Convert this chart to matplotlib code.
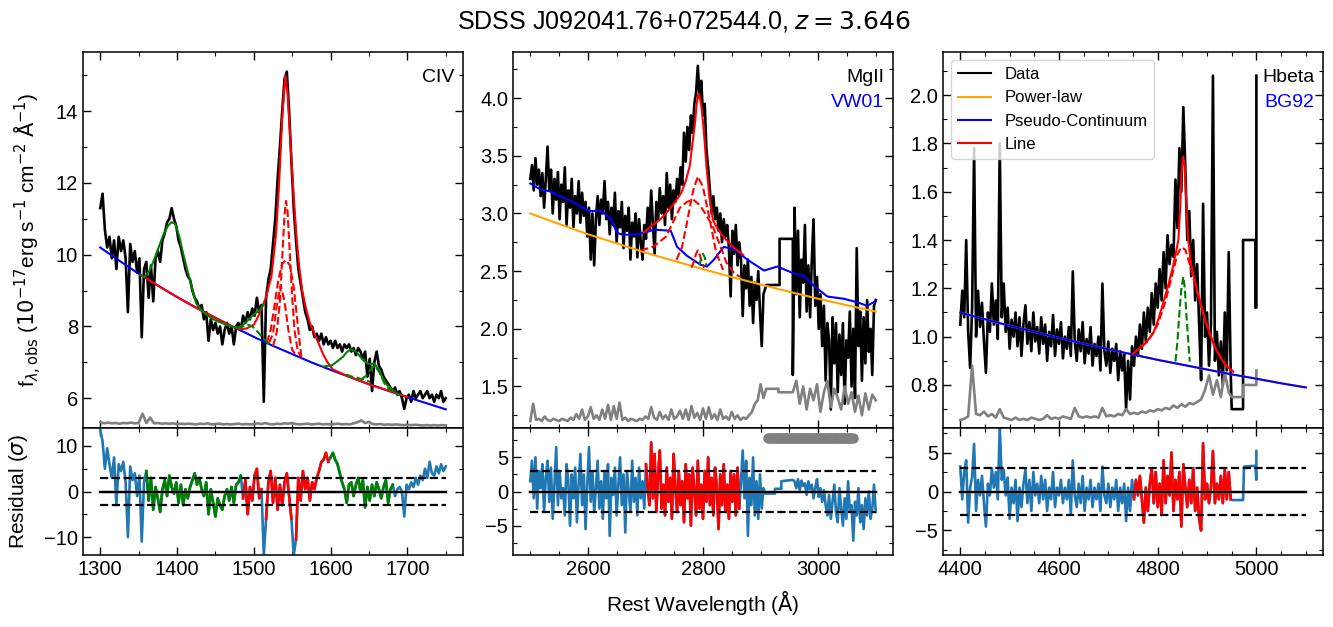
import numpy as np
import matplotlib
matplotlib.use("Agg")
import matplotlib.pyplot as plt
from matplotlib.ticker import AutoMinorLocator, MultipleLocator

plt.rcParams['font.family'] = ['Liberation Sans', 'DejaVu Sans']
plt.rcParams['mathtext.fontset'] = 'dejavusans'

# ---------------- CIV window ----------------
civ_lo, civ_hi = 1300, 1750
civ_flux = [11.3, 11.7, 10.7, 10.2, 10.5, 9.9, 10.4, 9.6, 10.5, 10.1,
            10.4, 9.9, 8.4, 10.3, 9.8, 10.1, 9.5, 9.9, 7.7, 9.6,
            9.8, 8.8, 9.7, 8.7, 9.9, 10.1, 9.8, 10.4, 10.6, 10.9,
            11.0, 11.3, 11.0, 10.8, 10.4, 10.2, 9.9, 9.6, 9.4, 9.3,
            9.0, 8.8, 8.7, 8.5, 8.6, 8.2, 8.4, 7.6, 8.2, 7.9,
            8.1, 7.8, 8.0, 7.5, 7.9, 8.1, 7.8, 8.0, 7.5, 8.0,
            8.1, 7.9, 8.3, 8.1, 8.4, 8.2, 8.5, 8.3, 8.8, 8.4,
            8.6, 5.9, 8.8, 9.3, 9.6, 10.3, 11.0, 12.1, 13.0, 14.0,
            14.9, 15.1, 14.0, 12.6, 11.3, 10.4, 9.6, 9.2, 8.8, 8.4,
            8.2, 7.9, 8.0, 7.7, 7.8, 7.6, 7.8, 7.5, 7.7, 7.5,
            7.6, 7.4, 7.6, 7.4, 7.5, 7.3, 7.5, 7.4, 7.5, 7.3,
            7.4, 7.2, 7.4, 7.3, 7.1, 7.3, 6.6, 7.1, 6.2, 7.0,
            7.3, 6.9, 6.8, 6.6, 6.5, 6.4, 6.3, 6.2, 6.3, 6.1,
            6.2, 6.0, 5.7, 6.0, 6.1, 5.9, 6.2, 6.0, 6.1, 6.2,
            6.0, 6.1, 6.2, 6.0, 6.1, 5.9, 6.1, 6.0, 6.2, 5.9,
            6.0]
civ_err = [5.33, 5.30, 5.32, 5.30, 5.31, 5.29, 5.31, 5.30, 5.32, 5.30,
           5.31, 5.57, 5.31, 5.46, 5.30, 5.31, 5.29, 5.30, 5.29, 5.30,
           5.28, 5.29, 5.28, 5.29, 5.28, 5.27, 5.29, 5.28, 5.30, 5.27,
           5.28, 5.29, 5.27, 5.28, 5.27, 5.28, 5.29, 5.27, 5.28, 5.27,
           5.28, 5.30, 5.28, 5.31, 5.28, 5.27, 5.29, 5.28, 5.30, 5.29,
           5.31, 5.28, 5.27, 5.28, 5.29, 5.27, 5.28, 5.29, 5.27, 5.28,
           5.27, 5.28, 5.29, 5.27, 5.28, 5.27, 5.30, 5.33, 5.38, 5.31,
           5.34, 5.28, 5.27, 5.28, 5.26, 5.27, 5.26, 5.27, 5.26, 5.25,
           5.26, 5.25, 5.26, 5.25, 5.24, 5.25, 5.24, 5.25, 5.24, 5.25,
           5.24]
civ_resid = [13.5, 11.0, 5.0, 9.5, 6.0, 3.0, 7.5, -3.0, 6.0, 4.5,
             6.5, 2.0, -10.0, 5.5, 2.5, 4.0, -1.0, 3.5, -11.0, 2.0,
             4.5, -2.0, 3.0, -4.0, 1.0, -1.5, -4.5, 0.5, 2.5, -1.0,
             3.5, 1.0, -0.5, 2.0, -2.5, 1.5, -3.0, 0.5, -1.5, 1.0,
             2.5, 4.0, 1.5, 3.0, 0.5, -1.0, 2.0, -5.0, 0.5, -2.5,
             -5.5, -1.5, -3.0, -4.0, -1.0, 0.5, -2.0, 1.0, -2.5, 1.5,
             2.0, 3.5, -1.5, 2.5, -5.0, 1.0, -2.0, 3.5, 5.0, -1.5,
             0.5, -14.0, -6.0, 2.0, 4.5, -2.5, 3.0, -4.0, 1.5, -3.0,
             2.0, 4.0, -1.0, -6.0, -14.0, -10.5, 3.0, -2.0, 4.5, 0.5,
             3.0, -2.0, 2.0, 0.5, 3.0, 4.5, 6.5, 7.0, 8.5, 6.5,
             7.5, 8.5, 7.0, 6.0, 4.0, 2.0, 0.5, -2.5, 1.5, 2.0,
             -1.0, 1.5, 3.0, 0.0, 2.5, -3.5, 1.0, -2.0, 1.5, -1.0,
             2.0, 0.5, -1.5, 1.0, 2.5, -2.5, 0.5, 1.5, -1.0, 0.5,
             1.0, 0.0, -5.5, 1.5, 0.5, 2.0, 1.0, 3.0, 1.5, 3.5,
             2.5, 5.0, 3.0, 6.5, 4.0, 3.5, 5.5, 4.0, 6.0, 4.5,
             5.5]
civ_conti_wave = [1300, 1325, 1350, 1375, 1400, 1425, 1450, 1475, 1500, 1525,
                  1550, 1575, 1600, 1625, 1650, 1675, 1700, 1725, 1750]
civ_conti = [10.20, 9.83, 9.47, 9.14, 8.82, 8.52, 8.24, 7.97, 7.71, 7.46,
             7.23, 7.00, 6.79, 6.59, 6.39, 6.21, 6.03, 5.86, 5.69]
civ_line_wave = [1352, 1375, 1400, 1425, 1450, 1470, 1480, 1490, 1500, 1505,
                 1510, 1516, 1523, 1529, 1533, 1537, 1541, 1544, 1547, 1550,
                 1553, 1556, 1559, 1563, 1568, 1573, 1579, 1585, 1590, 1596,
                 1603, 1625, 1650, 1675, 1700]
civ_line = [9.45, 9.14, 8.82, 8.52, 8.24, 8.02, 7.93, 7.94, 8.05, 8.25,
            8.50, 8.82, 9.40, 10.6, 12.0, 13.8, 15.0, 14.5, 13.4, 12.3,
            11.3, 10.4, 9.7, 9.0, 8.5, 8.1, 7.8, 7.5, 7.24, 7.0,
            6.80, 6.59, 6.39, 6.21, 6.03]
civ_green1_wave = [1352, 1358, 1364, 1370, 1376, 1382, 1388, 1393, 1398, 1403,
                   1408, 1413, 1417, 1421, 1425, 1430, 1436, 1443, 1450, 1458,
                   1466, 1474, 1482, 1490, 1497, 1503, 1509, 1513]
civ_green1 = [9.43, 9.38, 9.55, 9.85, 10.2, 10.55, 10.8, 10.91, 10.85, 10.5,
              10.03, 9.6, 9.29, 8.95, 8.64, 8.50, 8.36, 8.26, 8.17, 8.10,
              8.03, 7.98, 7.98, 8.12, 8.28, 8.38, 8.48, 8.62]
civ_green2_wave = [1590, 1602, 1610, 1616, 1621, 1626, 1632, 1637, 1643, 1648,
                   1652, 1657, 1663, 1668, 1672, 1678, 1685, 1690]
civ_green2 = [6.88, 6.92, 7.05, 7.15, 7.28, 7.36, 7.32, 7.2, 7.05, 6.97,
              6.95, 6.97, 6.78, 6.55, 6.41, 6.28, 6.15, 6.10]
civ_red_comps = [
    ([1520, 1525, 1530, 1535, 1540, 1545, 1550, 1555],
     [7.55, 7.80, 8.60, 9.15, 8.70, 7.90, 7.35, 7.20]),
    ([1525, 1530, 1534, 1537, 1540, 1542, 1544, 1547, 1550, 1553, 1557, 1561],
     [7.45, 7.85, 8.70, 9.90, 11.1, 11.5, 11.2, 10.0, 8.80, 7.90, 7.35, 7.15]),
    ([1517, 1522, 1527, 1532, 1537, 1542, 1547, 1552, 1556, 1559, 1562],
     [7.55, 7.90, 8.60, 9.30, 9.75, 9.85, 9.70, 9.10, 8.30, 7.70, 7.15]),
]
civ_green_comps = [
    ([1478, 1485, 1492, 1498, 1505, 1512, 1518, 1524],
     [7.95, 8.00, 8.05, 8.00, 7.85, 7.68, 7.55, 7.45]),
    ([1620, 1628, 1636, 1644, 1652],
     [6.66, 6.60, 6.56, 6.52, 6.45]),
    ([1640, 1646, 1652, 1657, 1663, 1670, 1678],
     [6.52, 6.62, 6.80, 6.90, 6.75, 6.42, 6.20]),
]
civ_green_win = [(1360, 1485), (1600, 1682)]
civ_red_win = [(1485, 1600)]
civ_reject = 12   # outliers left out of the fitted windows

# ---------------- MgII window ----------------
mg_flux_a = [3.30, 3.42, 3.20, 3.48, 3.25, 3.38, 3.15, 3.35, 3.05, 3.30,
             3.58, 3.20, 3.38, 3.00, 3.30, 3.12, 3.36, 2.95, 3.25, 3.10,
             3.40, 2.90, 3.20, 3.05, 3.30, 2.88, 3.15, 3.00, 3.28, 2.92,
             3.18, 2.98, 3.10, 2.80, 3.05, 2.60, 3.00, 2.55, 2.95, 3.15,
             2.90, 3.12, 3.00, 3.28, 2.95, 3.10, 2.82, 3.05, 2.90, 3.18,
             2.75, 3.02, 2.88, 3.10, 2.70, 2.98, 2.85, 3.05, 2.60, 2.92,
             2.80, 3.00, 2.62, 2.95, 2.75, 2.60, 2.90, 2.78, 3.05, 2.85,
             3.20, 2.90, 2.65, 3.10, 2.95, 3.22, 3.00, 3.15, 2.90, 3.35,
             3.05, 3.25, 2.95, 3.20, 3.10, 3.30, 3.15, 3.40, 3.25, 3.70,
             3.45, 3.75, 3.55, 3.85, 3.70, 3.95, 4.05, 4.28, 4.00, 4.15,
             3.85, 3.95, 3.55, 3.40, 3.20, 3.00, 3.15, 2.95, 3.05, 2.85,
             3.00, 2.75, 2.95, 2.80, 2.90, 2.70, 2.28, 2.85, 2.65, 2.90,
             2.55, 2.75, 2.60, 2.11, 2.55, 2.35, 2.60, 2.20, 2.45, 2.05,
             2.40, 2.25, 2.50, 2.15, 1.85, 2.30]
mg_a_lo, mg_a_hi = 2500, 2905
mg_step_wave = [2910, 2933, 2933, 2956]
mg_step_flux = [2.38, 2.38, 2.78, 2.78]
mg_flux_b = [1.60, 3.05, 2.30, 2.85, 2.10, 2.60, 2.40, 2.90, 2.15, 2.55,
             2.10, 2.60, 2.95, 2.20, 2.45, 2.00, 2.30, 1.85, 2.20, 1.55,
             2.05, 1.90, 1.30, 2.10, 1.70, 2.05, 1.45, 1.95, 1.60, 2.05,
             1.35, 1.90, 1.75, 2.15, 1.50, 2.00, 1.40, 2.70, 1.85, 2.15,
             1.55, 2.10, 1.70, 2.25, 1.80, 2.00, 1.60, 2.20, 2.25]
mg_b_lo, mg_b_hi = 2956, 3100
mg_err_a = [1.20, 1.35, 1.21, 1.22, 1.20, 1.24, 1.21, 1.20, 1.22, 1.21,
            1.20, 1.22, 1.21, 1.20, 1.23, 1.21, 1.26, 1.22, 1.30, 1.21,
            1.24, 1.32, 1.22, 1.25, 1.21, 1.30, 1.22, 1.34, 1.21, 1.33,
            1.22, 1.36, 1.21, 1.23, 1.20, 1.22, 1.21, 1.20, 1.22, 1.21,
            1.24, 1.22, 1.32, 1.23, 1.21, 1.28, 1.22, 1.25, 1.21, 1.30,
            1.22, 1.24, 1.29, 1.22, 1.30, 1.21, 1.33, 1.23, 1.27, 1.21,
            1.31, 1.22, 1.32, 1.22, 1.26, 1.21, 1.30, 1.22, 1.24, 1.21,
            1.28, 1.22, 1.25, 1.21, 1.23, 1.22, 1.25, 1.28, 1.35, 1.38,
            1.52, 1.40]
mg_err_step_wave = [2910, 2931, 2931, 2956]
mg_err_step = [1.48, 1.48, 1.45, 1.45]
mg_err_b = [1.45, 1.55, 1.35, 1.50, 1.30, 1.48, 1.38, 1.52, 1.28, 1.45,
            1.55, 1.32, 1.48, 1.40, 1.30, 1.50, 1.35, 1.45, 1.28, 1.42,
            1.25, 1.44, 1.30, 1.43, 1.38]
mg_resid_a = [1.5, 4.5, -1.0, 5.0, -2.5, 3.0, 0.5, 4.0, -3.0, 2.0,
              4.5, -1.5, 3.5, -4.0, 1.0, 6.5, -2.0, 3.0, -1.0, 0.5,
              -3.5, 4.0, 1.5, -5.0, 2.5, -1.0, 3.5, -4.5, 1.0, 5.5,
              -2.0, 2.5, -5.5, 1.0, 6.5, -1.5, 3.0, -3.0, 0.5, 4.5,
              -2.5, 1.5, -4.0, 3.0, -1.0, 4.0, -6.5, 2.0, -0.5, 3.5,
              -3.5, 1.0, 5.0, -2.0, 2.5, -6.0, 3.0, 0.0, -3.0, 4.5,
              -1.5, 2.0, -3.5, 3.5, -1.0, 1.5, -2.5, 4.0, 0.5, -2.0,
              7.2, -1.0, 5.5, -3.0, 2.5, 6.0, -2.5, 1.0, -3.5, 3.5,
              -1.5, 2.0, -4.0, 5.5, 0.5, -3.0, 3.0, -2.0, 1.5, -4.5,
              4.0, -1.0, 2.5, -5.0, 3.5, 0.0, -3.5, 4.5, -2.5, 1.0,
              -4.0, 3.0, -1.5, 5.0, -2.0, 2.0, -3.5, 3.5, 0.5, -5.5,
              2.5, -2.0, 4.0, -3.0, 1.0, -4.0, 3.0, -1.5, 2.5, -3.5,
              3.5, -2.5, 1.5, 6.0, -1.0, 4.5, -6.5, 2.0, -2.0, 5.0,
              -3.5, 1.5, -4.0, 2.5, -2.5, 0.5]
mg_resid_step_wave = [2908, 2925, 2925, 2936, 2936, 2956]
mg_resid_step = [-0.3, -0.3, 0.4, 0.4, 1.5, 1.7]
mg_resid_b = [1.7, 1.5, 0.5, 1.8, 0.2, 1.6, 0.8, 1.2, -0.5, 1.5,
              0.3, 1.0, -1.0, 0.5, 1.8, -0.8, 0.5, -1.5, 0.2, -2.0,
              -3.5, -0.5, -4.0, -1.5, 1.0, -3.0, -4.5, 0.5, -2.5, -5.0,
              -1.0, -4.0, 1.5, -3.0, -2.0, -7.2, -1.5, -3.5, 0.5, -4.5,
              -2.0, -5.5, -1.0, -3.5, 0.0, -4.0, -2.5, 1.0, -3.0]
mg_pl_wave = [2500, 2550, 2600, 2650, 2700, 2750, 2800, 2850, 2900, 2950,
              3000, 3050, 3100]
mg_pl = [3.00, 2.909, 2.82, 2.741, 2.66, 2.588, 2.517, 2.449, 2.384, 2.321,
         2.261, 2.204, 2.15]
mg_feii_wave = [2500, 2517, 2535, 2552, 2570, 2587, 2604, 2622, 2639, 2651,
                2662, 2686, 2703, 2715, 2744, 2755, 2773, 2796, 2807, 2819,
                2836, 2854, 2877, 2906, 2929, 2958, 2975, 2993, 3016, 3045,
                3068, 3085, 3100]
mg_feii = [3.26, 3.21, 3.19, 3.15, 3.11, 3.06, 3.02, 3.025, 2.96, 2.83,
           2.815, 2.82, 2.84, 2.86, 2.85, 2.71, 2.63, 2.555, 2.54, 2.60,
           2.71, 2.69, 2.60, 2.505, 2.54, 2.48, 2.46, 2.37, 2.28, 2.26,
           2.23, 2.20, 2.24]
mg_line_wave = [2697, 2710, 2725, 2737, 2748, 2762, 2770, 2777, 2782, 2786,
                2789, 2792, 2795, 2798, 2802, 2806, 2811, 2817, 2825, 2835,
                2852, 2870]
mg_line = [2.835, 2.89, 2.945, 3.01, 3.075, 3.176, 3.28, 3.41, 3.62, 3.78,
           3.95, 4.04, 4.00, 3.90, 3.68, 3.41, 3.15, 2.945, 2.87, 2.80,
           2.71, 2.64]
mg_red_comps = [
    ([2692, 2713, 2736, 2760, 2772, 2783, 2795, 2805, 2817, 2829, 2841, 2853, 2864],
     [2.68, 2.71, 2.80, 3.05, 3.10, 3.12, 3.07, 2.99, 2.89, 2.73, 2.57, 2.49, 2.45]),
    ([2754, 2763, 2771, 2777, 2783, 2791, 2800, 2806, 2812, 2823, 2835],
     [2.60, 2.70, 2.89, 3.05, 3.20, 3.32, 3.23, 3.08, 2.94, 2.66, 2.51]),
    ([2780, 2784, 2788, 2791, 2794, 2798, 2802],
     [2.53, 2.58, 2.65, 2.68, 2.65, 2.58, 2.53]),
]
mg_green_comps = [
    ([2794, 2797, 2800, 2803, 2806], [2.55, 2.62, 2.65, 2.62, 2.55]),
]
mg_red_win = [(2700, 2866)]
mg_mask_lo, mg_mask_hi = 2913, 3061   # masked pixels shown as grey dots
mg_mask_step = 3
mg_mask_level = 7.8

# ---------------- Hbeta window ----------------
hb_lo, hb_hi = 4400, 4948
hb_flux = [1.05, 1.19, 1.08, 1.40, 1.02, 0.87, 1.12, 1.78, 1.00, 1.19,
           1.04, 1.14, 0.98, 0.85, 1.10, 1.02, 1.22, 1.05, 1.15, 0.99,
           1.80, 1.08, 1.22, 1.02, 1.12, 0.95, 1.07, 1.00, 1.10, 0.96,
           1.08, 0.92, 1.05, 1.13, 0.97, 1.06, 0.94, 1.10, 0.98, 1.04,
           0.93, 1.08, 0.97, 1.05, 0.90, 1.02, 0.96, 1.09, 0.92, 1.03,
           0.97, 1.06, 0.91, 1.00, 0.95, 1.04, 0.92, 1.27, 0.98, 0.90,
           1.03, 0.94, 1.06, 0.89, 0.99, 0.93, 1.04, 0.88, 0.97, 0.92,
           1.00, 0.86, 1.22, 0.94, 0.88, 0.98, 0.85, 0.95, 0.90, 0.97,
           0.82, 0.94, 0.86, 0.93, 0.70, 0.90, 0.74, 0.96, 0.88, 1.00,
           0.92, 1.05, 0.95, 1.10, 0.98, 1.12, 1.02, 1.18, 1.05, 1.22,
           1.12, 1.28, 1.15, 1.35, 1.20, 1.42, 1.30, 1.38, 1.33, 1.65,
           1.45, 1.78, 1.60, 1.95, 1.70, 1.40, 1.52, 1.25, 1.40, 1.15,
           1.30, 1.05, 0.82, 1.55, 1.00, 1.10, 0.88, 1.05, 2.08, 0.90,
           1.02, 0.84, 0.98, 0.80, 1.10, 0.86, 1.35, 0.85]
hb_step_wave = [4950, 4973, 4973, 4998, 4998, 5000, 5000]
hb_step_flux = [0.70, 0.70, 1.40, 1.40, 1.12, 1.12, 2.08]
hb_err_lo, hb_err_hi = 4400, 4944
hb_err = [0.655, 0.66, 0.67, 0.88, 0.68, 0.675, 0.69, 0.67, 0.68, 0.665,
          0.70, 0.665, 0.66, 0.655, 0.665, 0.655, 0.66, 0.655, 0.665, 0.66,
          0.655, 0.66, 0.675, 0.66, 0.665, 0.66, 0.67, 0.665, 0.66, 0.705,
          0.67, 0.665, 0.67, 0.665, 0.67, 0.665, 0.705, 0.67, 0.675, 0.67,
          0.68, 0.675, 0.70, 0.68, 0.685, 0.68, 0.69, 0.685, 0.695, 0.69,
          0.70, 0.695, 0.705, 0.70, 0.715, 0.705, 0.72, 0.71, 0.725, 0.72,
          0.73, 0.74, 0.78, 0.84, 0.76, 0.82, 0.75, 0.85, 0.77]
hb_err_step_wave = [4950, 4973, 4973, 5000, 5000]
hb_err_step = [0.75, 0.75, 0.80, 0.80, 0.86]
hb_resid = [3.2, -1.0, 2.5, 4.0, -4.0, 0.5, 1.8, 6.1, -2.5, 1.5,
            -0.5, 2.0, -1.5, -4.5, 1.0, -0.5, 3.0, 0.5, 2.5, -1.0,
            8.5, 1.5, 2.8, -0.5, 1.8, -3.5, 0.5, -1.5, 1.5, -3.8,
            0.5, -2.0, 1.0, 2.8, -1.5, 1.5, -2.5, 2.5, -0.5, 1.0,
            -1.5, 2.0, -1.0, 1.5, -2.5, 0.5, -1.0, 2.5, -2.0, 0.5,
            -0.5, 1.5, -1.5, 0.5, -1.0, 1.5, -3.0, 4.0, -0.5, -2.0,
            1.0, -1.5, 2.0, -2.5, 0.5, -1.0, 1.5, -2.0, 0.5, -1.0,
            1.0, -2.5, 3.2, -0.5, -1.5, 1.0, -2.0, 0.5, -1.0, 1.5,
            -2.5, 0.5, -1.5, 1.0, -3.8, 0.5, -2.5, 1.5, -1.0, 1.5,
            -0.5, 2.0, -1.0, -4.0, 0.5, -2.5, 1.0, 3.0, -1.5, 2.5,
            -2.0, 1.0, -3.0, 4.0, -1.5, 2.0, -0.5, 5.0, -2.5, 1.5,
            -1.0, 2.5, -4.5, 3.5, 0.5, -2.0, 1.5, -1.5, 3.0, -2.5,
            0.5, -3.5, -5.0, 6.2, -1.0, 1.0, -1.5, 0.5, 5.2, -1.5,
            1.0, -1.0, 2.0, -1.5, 2.8, -1.0, 2.5, -1.0]
hb_resid_step_wave = [4952, 4973, 4975, 4998, 5000, 5000]
hb_resid_step = [-1.1, -1.1, 3.2, 3.3, 1.5, 5.2]
hb_conti_wave = [4400, 4450, 4500, 4550, 4600, 4650, 4700, 4750, 4800, 4850,
                 4900, 4950, 5000, 5050, 5100]
hb_conti = [1.099, 1.072, 1.045, 1.020, 0.995, 0.971, 0.948, 0.926, 0.904, 0.884,
            0.864, 0.844, 0.826, 0.807, 0.790]
hb_line_wave = [4750, 4764, 4778, 4791, 4801, 4811, 4821, 4831, 4838, 4842,
                4846, 4849, 4852, 4855, 4858, 4862, 4867, 4872, 4880, 4889,
                4897, 4906, 4915, 4926, 4938, 4953]
hb_line = [0.93, 0.952, 0.98, 1.014, 1.07, 1.138, 1.21, 1.29, 1.36, 1.40,
           1.55, 1.70, 1.745, 1.70, 1.55, 1.40, 1.31, 1.262, 1.19, 1.124,
           1.065, 1.014, 0.96, 0.917, 0.88, 0.855]
hb_red_comps = [
    ([4750, 4780, 4800, 4815, 4830, 4840, 4848, 4856, 4865, 4875, 4890, 4905,
      4920, 4935, 4953],
     [0.93, 0.98, 1.05, 1.14, 1.26, 1.34, 1.37, 1.36, 1.30, 1.22, 1.11, 1.01,
      0.94, 0.89, 0.855]),
]
hb_green_comps = [
    ([4836, 4840, 4844, 4848, 4852, 4855, 4858, 4862, 4865],
     [0.897, 0.98, 1.097, 1.20, 1.248, 1.20, 1.097, 0.98, 0.897]),
]
hb_red_win = [(4750, 4950)]


def grid(lo, hi, vals):
    return np.linspace(lo, hi, len(vals))


def window_part(wave, vals, wins, reject=None):
    wave = np.asarray(wave)
    vals = np.asarray(vals, dtype=float)
    keep = np.zeros(len(wave), dtype=bool)
    for a, b in wins:
        keep |= (wave >= a) & (wave < b)
    if reject is not None:
        keep &= np.abs(vals) < reject
    return np.where(keep, vals, np.nan)


def style(ax, xminor, yminor):
    ax.tick_params(which='both', direction='in', top=True, right=True,
                   labelsize=14.5)
    ax.tick_params(which='major', length=6, width=1)
    ax.tick_params(which='minor', length=3, width=0.8)
    ax.xaxis.set_minor_locator(AutoMinorLocator(xminor))
    ax.yaxis.set_minor_locator(AutoMinorLocator(yminor))
    for s in ax.spines.values():
        s.set_linewidth(1.1)


def resid_lines(ax, lo, hi):
    ax.plot([lo, hi], [0, 0], color='gray', lw=3, alpha=0.25, zorder=3)
    ax.plot([lo, hi], [0, 0], color='k', lw=1.6, zorder=4)
    ax.plot([lo, hi], [3, 3], color='k', lw=1.6, ls='--', zorder=4)
    ax.plot([lo, hi], [-3, -3], color='k', lw=1.6, ls='--', zorder=4)


def labels(ax, top, bottom=None):
    ax.text(0.977, 0.955, top, transform=ax.transAxes, ha='right', va='top',
            fontsize=14, color='k')
    if bottom:
        ax.text(0.977, 0.888, bottom, transform=ax.transAxes, ha='right',
                va='top', fontsize=14, color='blue')


W, H = 1333, 627
fig = plt.figure(figsize=(W / 100, H / 100), dpi=100)
lefts = [83, 513, 943]
axw = 380 / W
top_b, top_h = (H - 428) / H, 376 / H
res_b, res_h = (H - 555) / H, 127 / H
ax_t = [fig.add_axes([l / W, top_b, axw, top_h]) for l in lefts]
ax_r = [fig.add_axes([l / W, res_b, axw, res_h]) for l in lefts]

lw_d = 1.9
lw_m = 1.5

# ---- CIV panels ----
ax = ax_t[0]
cw = grid(civ_lo, civ_hi, civ_flux)
ax.plot(cw, civ_flux, color='k', lw=lw_d)
ax.plot(grid(civ_lo, civ_hi, civ_err), civ_err, color='gray', lw=lw_d)
ax.plot(civ_conti_wave, civ_conti, color='blue', lw=lw_m)
ax.plot(civ_line_wave, civ_line, color='red', lw=lw_m)
for w, f in civ_red_comps:
    ax.plot(w, f, color='red', lw=lw_m, ls='--')
for w, f in civ_green_comps:
    ax.plot(w, f, color='green', lw=lw_m, ls='--')
ax.plot(civ_green1_wave, civ_green1, color='green', lw=lw_m)
ax.plot(civ_green2_wave, civ_green2, color='green', lw=lw_m)
ax.set_xlim(1277.5, 1772.5)
ax.set_ylim(5.17, 15.65)
ax.yaxis.set_major_locator(MultipleLocator(2))
labels(ax, 'CIV')
ax.set_ylabel(r'f$_{\lambda,\rm obs}$ ($10^{-17}$erg s$^{-1}$ cm$^{-2}$ $\rm\AA^{-1}$)',
              fontsize=15)
ax.yaxis.set_label_coords(-0.105, 0.5)

ax = ax_r[0]
rw = grid(civ_lo, civ_hi, civ_resid)
ax.plot(rw, civ_resid, color='tab:blue', lw=lw_d)
ax.plot(rw, window_part(rw, civ_resid, civ_green_win, civ_reject),
        color='green', lw=lw_d)
ax.plot(rw, window_part(rw, civ_resid, civ_red_win, civ_reject),
        color='red', lw=lw_d)
resid_lines(ax, civ_lo, civ_hi)
ax.set_xlim(1277.5, 1772.5)
ax.set_ylim(-13.95, 13.95)
ax.yaxis.set_major_locator(MultipleLocator(10))
ax.set_ylabel(r'Residual ($\sigma$)', fontsize=15)
ax.yaxis.set_label_coords(-0.139, 0.5)

# ---- MgII panels ----
ax = ax_t[1]
mw = np.concatenate([grid(mg_a_lo, mg_a_hi, mg_flux_a), mg_step_wave,
                     grid(mg_b_lo, mg_b_hi, mg_flux_b)])
mf = np.concatenate([mg_flux_a, mg_step_flux, mg_flux_b])
ax.plot(mw, mf, color='k', lw=lw_d)
ew = np.concatenate([grid(mg_a_lo, mg_a_hi, mg_err_a), mg_err_step_wave,
                     grid(mg_b_lo, mg_b_hi, mg_err_b)])
ef = np.concatenate([mg_err_a, mg_err_step, mg_err_b])
ax.plot(ew, ef, color='gray', lw=lw_d)
ax.plot(mg_pl_wave, mg_pl, color='orange', lw=lw_m)
ax.plot(mg_feii_wave, mg_feii, color='blue', lw=lw_m)
for w, f in mg_red_comps:
    ax.plot(w, f, color='red', lw=lw_m, ls='--')
for w, f in mg_green_comps:
    ax.plot(w, f, color='green', lw=lw_m, ls='--')
ax.plot(mg_line_wave, mg_line, color='red', lw=lw_m)
ax.set_xlim(2470, 3130)
ax.set_ylim(1.14, 4.40)
ax.yaxis.set_major_locator(MultipleLocator(0.5))
labels(ax, 'MgII', 'VW01')

ax = ax_r[1]
rwa = grid(mg_a_lo, mg_a_hi, mg_resid_a)
rwb = grid(mg_b_lo, mg_b_hi, mg_resid_b)
rw = np.concatenate([rwa, mg_resid_step_wave, rwb])
rv = np.concatenate([mg_resid_a, mg_resid_step, mg_resid_b])
ax.plot(rw, rv, color='tab:blue', lw=lw_d)
ax.plot(rw, window_part(rw, rv, mg_red_win), color='red', lw=lw_d)
mask_w = np.arange(mg_mask_lo, mg_mask_hi + 1, mg_mask_step)
ax.plot(mask_w, np.full(len(mask_w), mg_mask_level), 'o', color='gray',
        ms=6.5, zorder=5)
resid_lines(ax, 2500, 3100)
ax.set_xlim(2470, 3130)
ax.set_ylim(-9.3, 9.3)
ax.yaxis.set_major_locator(MultipleLocator(5))

# ---- Hbeta panels ----
ax = ax_t[2]
hw = np.concatenate([grid(hb_lo, hb_hi, hb_flux), hb_step_wave])
hf = np.concatenate([hb_flux, hb_step_flux])
ax.plot(hw, hf, color='k', lw=lw_d, label='Data')
ew = np.concatenate([grid(hb_err_lo, hb_err_hi, hb_err), hb_err_step_wave])
ef = np.concatenate([hb_err, hb_err_step])
ax.plot(ew, ef, color='gray', lw=lw_d)
ax.plot(hb_conti_wave, hb_conti, color='orange', lw=lw_m, label='Power-law')
ax.plot(hb_conti_wave, hb_conti, color='blue', lw=lw_m, label='Pseudo-Continuum')
for w, f in hb_red_comps:
    ax.plot(w, f, color='red', lw=lw_m, ls='--')
for w, f in hb_green_comps:
    ax.plot(w, f, color='green', lw=lw_m, ls='--')
ax.plot(hb_line_wave, hb_line, color='red', lw=lw_m, label='Line')
ax.set_xlim(4365, 5135)
ax.set_ylim(0.622, 2.178)
ax.yaxis.set_major_locator(MultipleLocator(0.2))
labels(ax, 'Hbeta', 'BG92')
leg = ax.legend(loc='upper left', fontsize=12)
for h in leg.get_lines():
    h.set_linewidth(1.5)

ax = ax_r[2]
rw = np.concatenate([grid(hb_lo, hb_hi, hb_resid), hb_resid_step_wave])
rv = np.concatenate([hb_resid, hb_resid_step])
ax.plot(rw, rv, color='tab:blue', lw=lw_d)
ax.plot(rw, window_part(rw, rv, hb_red_win), color='red', lw=lw_d)
resid_lines(ax, 4400, 5100)
ax.set_xlim(4365, 5135)
ax.set_ylim(-8.15, 8.15)
ax.yaxis.set_major_locator(MultipleLocator(5))

for a in ax_t:
    style(a, 2 if a is ax_t[0] else 4, 2)
    a.tick_params(labelbottom=False)
for a in ax_r:
    style(a, 2 if a is ax_r[0] else 4, 2)
ax_t[0].xaxis.set_major_locator(MultipleLocator(100))
ax_r[0].xaxis.set_major_locator(MultipleLocator(100))
for a in ax_t[1:] + ax_r[1:]:
    a.xaxis.set_major_locator(MultipleLocator(200))

fig.text(683.5 / W, 1 - 22 / H, r'SDSS J092041.76+072544.0, $z=3.646$',
         ha='center', va='center', fontsize=18)
fig.text(703 / W, 1 - 603 / H, r'Rest Wavelength ($\rm\AA$)', ha='center',
         va='center', fontsize=15)

fig.savefig('out.png', dpi=100)
